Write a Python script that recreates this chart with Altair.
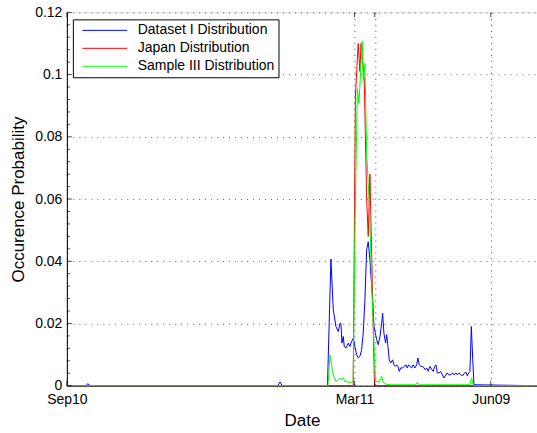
import altair as alt
import pandas as pd

# Days counted from Sep10 (x axis), occurrence probability (y axis)
blue_day = [0, 12, 13.4, 15, 134.5, 136, 137.5, 166.3, 168.5, 170.0, 171.7, 173.2, 174.3, 174.9,
            175.5, 176.4, 177.0, 178.1, 179.6, 180.6, 181.7, 182.8, 183.8, 184.9, 186.0, 187.0,
            188.1, 189.1, 190.2, 191.3, 192.3, 193.4, 194.5, 195.1, 196.0, 196.8, 197.7, 198.7,
            199.8, 200.9, 201.5, 202.3, 203.4, 204.1, 204.9, 205.7, 206.6, 207.9, 208.7, 209.6,
            210.5, 211.3, 212.1, 213.0, 214.3, 215.1, 216.4, 217.2, 218.1, 218.9, 220.0, 221.0,
            222.1, 223.2, 224.0, 224.9, 225.9, 227.0, 227.9, 228.7, 229.6, 230.6, 231.7, 233.0,
            233.8, 234.7, 235.5, 236.4, 237.6, 238.5, 239.6, 240.6, 241.9, 242.7, 243.6, 244.9,
            246.2, 247.0, 248.3, 249.1, 250.4, 251.3, 252.6, 253.8, 254.7, 255.5, 256.4, 257.2,
            258.1, 259.0, 259.8, 300]
blue_val = [0, 0, 0.0006, 0, 0, 0.0012, 0, 0, 0.0407, 0.0244, 0.0190, 0.0174, 0.0201, 0.0199,
            0.0137, 0.0158, 0.0126, 0.0121, 0.0137, 0.0126, 0.0142, 0.0153, 0.0126, 0.0100, 0.0089, 0.0094,
            0.0116, 0.0169, 0.0276, 0.0437, 0.0463, 0.0404, 0.0319, 0.0276, 0.0190, 0.0169, 0.0148, 0.0132,
            0.0158, 0.0201, 0.0233, 0.0169, 0.0137, 0.0164, 0.0126, 0.0083, 0.0073, 0.0083, 0.0067, 0.0062,
            0.0067, 0.0062, 0.0046, 0.0057, 0.0057, 0.0062, 0.0067, 0.0057, 0.0067, 0.0062, 0.0057, 0.0067,
            0.0057, 0.0067, 0.0089, 0.0067, 0.0062, 0.0062, 0.0057, 0.0051, 0.0057, 0.0046, 0.0062, 0.0051,
            0.0046, 0.0062, 0.0067, 0.0041, 0.0041, 0.0046, 0.0035, 0.0025, 0.0035, 0.0041, 0.0035, 0.0035,
            0.0041, 0.0035, 0.0041, 0.0035, 0.0041, 0.0035, 0.0032, 0.0041, 0.0043, 0.0032, 0.0041, 0.0046,
            0.0190, 0.0083, 0.0003, 0]

red_day = [0, 182.7, 184.1, 185.9, 187.0, 187.7, 188.8, 189.8, 190.4, 191.3, 192.3, 193.4, 196.3, 300]
red_val = [0, 0, 0.093, 0.110, 0.101, 0.110, 0.104, 0.098, 0.082, 0.060, 0.048, 0.068, 0, 0]

green_day = [0, 166.6, 167.9, 169.0, 170.0, 171.7, 173.2, 174.3, 175.4, 176.4, 177.4, 179.6, 181.7,
             182.7, 184.1, 185.4, 186.4, 188.5, 189.1, 190.2, 191.3, 193.1, 194.7, 196.9, 197.9,
             199.1, 200.9, 201.9, 203.6, 206.2, 222.5, 223.6, 224.7, 257.2, 258.3, 259.3, 300]
green_val = [0, 0, 0.0099, 0.0062, 0.0035, 0.0014, 0.0019, 0.0025, 0.0019, 0.0025, 0.0014, 0.0011, 0.0011,
             0.0014, 0.060, 0.0955, 0.0907, 0.1108, 0.098, 0.1036, 0.075, 0.057, 0.030, 0.0015, 0.0014,
             0.0011, 0.0030, 0.0011, 0.0005, 0.0003, 0.0003, 0.0011, 0.0003, 0.0003, 0.0025, 0, 0]

series_names = ["Dataset I Distribution", "Japan Distribution", "Sample III Distribution"]
series_colors = ["#0000ff", "#ff0000", "#00ff00"]

x_tick_vals = [0, 183.5, 196.5, 270.5]
x_tick_text = ["Sep10", "Mar11", "", "Jun09"]
y_tick_vals = [0, 0.02, 0.04, 0.06, 0.08, 0.1, 0.12]
y_minor_vals = [v / 1000 for v in range(4, 120, 4) if v % 20 != 0]

FONT = "Liberation Sans"

frames = []
for name, d, v in zip(series_names, [blue_day, red_day, green_day], [blue_val, red_val, green_val]):
    frames.append(pd.DataFrame({"day": d, "prob": v, "series": name}))

label_map = "{" + ", ".join(f"'{t}': '{l}'" for t, l in zip(x_tick_vals, x_tick_text)) + "}"

x_scale = alt.Scale(domain=[0, 300], nice=False, zero=False)
y_scale = alt.Scale(domain=[0, 0.12], nice=False)

x_axis = alt.Axis(
    title="Date", values=x_tick_vals, labelExpr=f"{label_map}[toString(datum.value)]",
    grid=True, gridDash=[1, 5], gridColor="#444444", ticks=False,
    domainColor="black", labelFont=FONT, labelFontSize=14, labelColor="black",
    labelPadding=7, labelFlush=False, labelOverlap=False,
    titleFont=FONT, titleFontSize=17, titleFontWeight="normal", titleColor="black", titlePadding=6,
)
y_axis = alt.Axis(
    title="Occurence Probability", values=y_tick_vals, format=".2~f",
    grid=True, gridDash=[1, 5], gridColor="#666666", ticks=False,
    domainColor="black", labelFont=FONT, labelFontSize=14, labelColor="black",
    labelPadding=5, labelFlush=False, labelOverlap=False,
    titleFont=FONT, titleFontSize=17, titleFontWeight="normal", titleColor="black", titlePadding=7,
)

color = alt.Color(
    "series:N",
    scale=alt.Scale(domain=series_names, range=series_colors),
    legend=alt.Legend(
        orient="none", legendX=6, legendY=7, title=None,
        symbolType="stroke", symbolSize=2025, symbolStrokeWidth=1,
        clipHeight=14, rowPadding=4, padding=4, labelOffset=10, symbolOffset=5,
        strokeColor="black", fillColor="white",
        labelFont=FONT, labelFontSize=14, labelColor="black", labelLimit=300,
    ),
)

X = lambda field: alt.X(field, scale=x_scale, axis=x_axis)
Y = lambda field: alt.Y(field, scale=y_scale, axis=y_axis)

lines = [
    alt.Chart(df).mark_line(strokeWidth=1, interpolate="linear").encode(
        x=X("day:Q"), y=Y("prob:Q"), color=color)
    for df in frames
]

# inward tick marks on the left, bottom and top edges
ymaj = pd.DataFrame({"v": y_tick_vals})
ymin = pd.DataFrame({"v": y_minor_vals})
xmaj = pd.DataFrame({"v": x_tick_vals})

left_major = alt.Chart(ymaj).mark_tick(orient="horizontal", size=5, thickness=1, color="black").encode(
    y=Y("v:Q"), x=alt.value(2.5))
left_minor = alt.Chart(ymin).mark_tick(orient="horizontal", size=3, thickness=1, color="black").encode(
    y=Y("v:Q"), x=alt.value(1.5))
bottom_major = alt.Chart(xmaj).mark_tick(orient="vertical", size=5, thickness=1, color="black").encode(
    x=X("v:Q"), y=alt.value(371.5))
top_major = alt.Chart(xmaj).mark_tick(orient="vertical", size=5, thickness=1, color="black").encode(
    x=X("v:Q"), y=alt.value(2.5))

chart = alt.layer(*lines, left_major, left_minor, bottom_major, top_major).properties(
    width=471, height=374,
    autosize=alt.AutoSizeParams(type="none"),
    padding={"left": 67, "top": 12, "right": 0, "bottom": 47},
).configure_view(stroke="black", strokeWidth=1).configure(background="white")

chart.save("out.html", embed_options={"renderer": "svg", "actions": False})
